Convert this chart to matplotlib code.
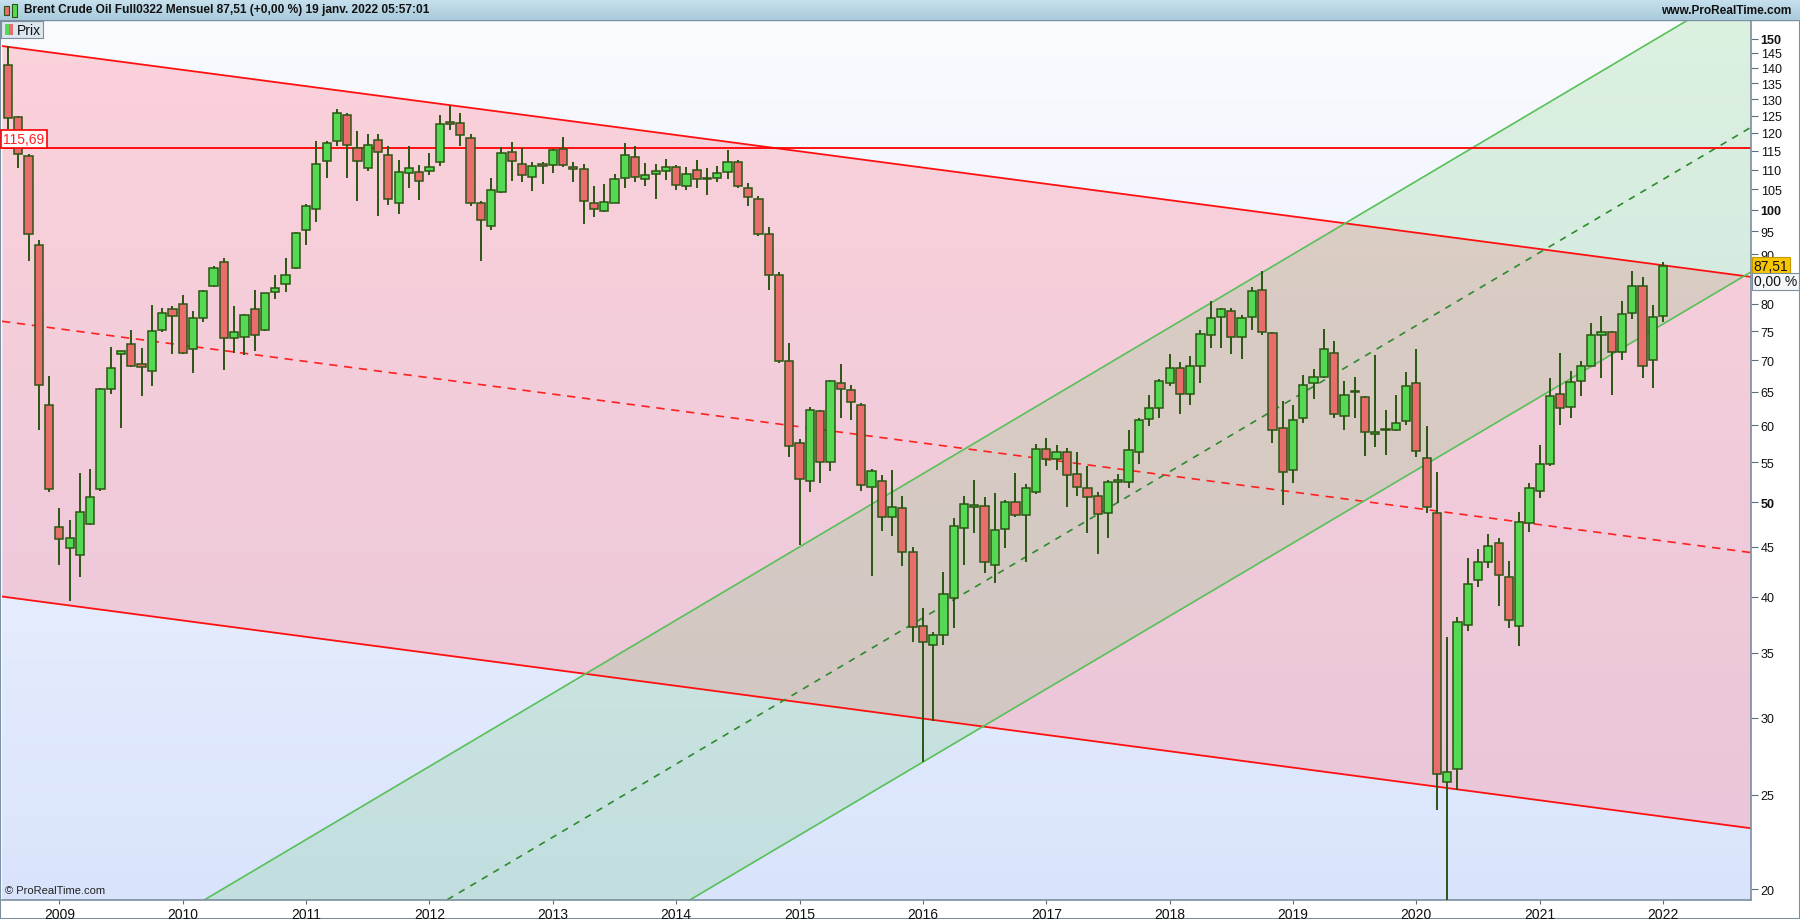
import numpy as np
import matplotlib.pyplot as plt
from matplotlib.patches import Rectangle

plt.rcParams['font.family'] = ['Liberation Sans', 'DejaVu Sans']

# Monthly candles as laid out on the chart (first bar = Aug 2008, last = Jan 2022)
opens = [141.0, 124.6, 113.5, 92.0, 62.9, 47.2, 44.9, 44.1, 47.5, 51.6,
         65.4, 71.1, 72.7, 69.4, 68.2, 75.3, 79.1, 80.0, 71.9, 77.4,
         83.4, 88.3, 73.8, 73.9, 79.0, 75.2, 82.3, 83.9, 87.1, 95.3,
         100.1, 112.2, 117.6, 125.1, 115.7, 110.3, 117.9, 113.8, 101.6, 109.1,
         109.3, 109.6, 111.9, 123.1, 122.8, 118.5, 101.6, 96.2, 104.2, 114.6,
         111.4, 108.0, 111.4, 111.1, 115.5, 110.6, 110.1, 101.6, 99.6, 101.7,
         107.7, 113.2, 107.6, 108.9, 109.5, 110.7, 105.7, 110.0, 107.8, 107.7,
         109.3, 111.9, 105.4, 102.7, 94.4, 85.6, 69.9, 57.5, 52.6, 62.1,
         55.0, 66.4, 65.2, 62.9, 51.9, 52.6, 48.3, 49.3, 44.4, 37.3,
         35.7, 36.5, 39.9, 47.1, 49.5, 49.6, 43.1, 46.9, 50.0, 48.5,
         51.3, 56.8, 55.4, 56.3, 53.5, 51.7, 50.7, 48.7, 52.5, 52.5,
         56.4, 60.9, 62.5, 66.3, 68.7, 64.6, 69.1, 74.4, 77.5, 78.6,
         73.9, 77.5, 82.6, 74.6, 59.7, 54.0, 61.1, 66.3, 67.3, 71.3,
         61.4, 64.9, 64.1, 58.8, 59.3, 59.3, 60.6, 66.3, 55.6, 48.8,
         25.8, 26.6, 37.4, 41.6, 43.4, 45.4, 41.9, 37.3, 47.6, 51.4,
         54.7, 64.6, 62.7, 66.6, 69.1, 74.4, 74.9, 71.4, 78.3, 83.4,
         70.0, 77.7]
highs = [147.5, 125.0, 114.0, 93.1, 67.5, 49.3, 48.0, 53.6, 54.1, 65.6,
         72.2, 71.6, 75.2, 72.1, 79.8, 79.2, 79.6, 81.8, 78.6, 82.7,
         87.6, 89.3, 79.6, 78.2, 82.7, 82.2, 85.7, 89.2, 94.8, 101.4,
         117.7, 117.7, 127.0, 125.8, 120.5, 119.6, 119.6, 116.2, 112.5, 116.2,
         111.1, 114.4, 125.2, 128.0, 125.8, 119.6, 102.1, 107.7, 116.0, 117.4,
         115.7, 111.9, 111.9, 115.4, 118.7, 111.9, 111.4, 105.7, 106.3, 108.9,
         117.2, 116.2, 111.7, 111.4, 112.8, 111.2, 110.7, 112.4, 110.5, 111.0,
         115.3, 112.6, 106.6, 103.3, 95.9, 86.3, 72.9, 58.1, 62.7, 62.3,
         66.8, 69.4, 66.1, 63.2, 54.1, 53.3, 54.0, 50.7, 45.0, 38.9,
         36.8, 42.4, 48.2, 50.8, 52.7, 50.6, 51.1, 50.3, 53.6, 52.2,
         57.4, 58.2, 57.3, 56.9, 56.4, 54.5, 51.3, 52.7, 53.5, 59.3,
         61.1, 64.5, 67.0, 71.1, 69.8, 70.8, 75.3, 80.5, 79.3, 79.2,
         78.0, 83.2, 86.5, 74.8, 63.6, 62.9, 67.6, 68.6, 75.4, 73.3,
         66.7, 67.3, 64.3, 70.9, 62.2, 64.5, 68.1, 71.9, 59.9, 53.7,
         36.3, 38.1, 43.8, 44.8, 46.4, 46.0, 43.5, 48.9, 52.3, 57.3,
         67.1, 71.2, 68.2, 69.9, 76.4, 77.7, 75.1, 80.5, 86.4, 85.2,
         79.8, 88.3]
lows = [121.0, 110.3, 88.5, 59.3, 51.2, 43.1, 39.6, 41.9, 47.4, 51.4,
        64.7, 59.6, 68.9, 64.4, 65.8, 74.9, 71.0, 71.0, 67.9, 76.6,
        83.2, 68.4, 71.3, 70.9, 71.5, 75.0, 80.9, 82.3, 87.0, 92.1,
        97.2, 107.9, 116.4, 107.9, 102.0, 109.7, 98.6, 101.2, 99.1, 105.4,
        102.4, 108.7, 111.0, 120.9, 116.4, 101.0, 88.6, 95.4, 104.0, 107.0,
        106.8, 104.5, 106.3, 109.1, 110.6, 106.8, 96.6, 98.4, 99.4, 101.5,
        105.4, 106.8, 105.9, 102.6, 107.3, 104.7, 104.9, 105.2, 103.6, 106.7,
        107.6, 105.2, 100.8, 93.9, 82.6, 69.6, 55.7, 45.2, 51.2, 52.3,
        53.8, 61.0, 60.7, 51.4, 42.0, 46.7, 46.2, 43.0, 35.9, 27.0,
        29.8, 35.7, 37.1, 43.1, 46.5, 42.3, 41.3, 44.9, 48.3, 43.4,
        51.0, 54.5, 54.0, 49.5, 50.8, 46.5, 44.2, 46.0, 49.9, 51.7,
        54.8, 59.9, 61.0, 65.9, 61.6, 62.9, 66.4, 72.1, 72.1, 71.0,
        70.2, 75.3, 74.4, 57.6, 49.7, 52.3, 60.3, 63.8, 67.2, 61.1,
        59.3, 61.1, 55.8, 57.0, 56.0, 59.2, 60.1, 55.7, 48.8, 24.1,
        16.0, 25.3, 36.9, 40.9, 42.8, 39.1, 37.1, 35.6, 46.6, 50.5,
        54.5, 60.0, 61.0, 64.4, 69.0, 67.2, 64.5, 70.1, 77.2, 67.2,
        65.5, 76.7]
closes = [124.3, 114.2, 94.5, 66.0, 51.6, 45.8, 45.9, 48.9, 50.6, 65.4,
          68.7, 71.5, 69.1, 68.9, 75.0, 78.3, 77.8, 71.2, 77.3, 82.5,
          87.2, 73.8, 74.8, 77.9, 74.4, 82.1, 83.0, 85.6, 94.6, 100.9,
          111.4, 117.1, 125.7, 116.5, 112.2, 116.5, 114.6, 102.5, 109.3, 110.3,
          107.0, 110.6, 122.5, 122.5, 119.3, 101.6, 97.5, 104.7, 114.3, 112.2,
          108.5, 110.9, 110.9, 115.2, 111.1, 110.1, 102.1, 100.1, 101.8, 107.6,
          113.8, 108.0, 108.6, 109.5, 110.7, 106.1, 108.9, 107.6, 107.6, 109.1,
          112.1, 105.7, 103.0, 94.4, 85.7, 69.9, 57.1, 52.8, 62.3, 55.0,
          66.6, 65.4, 63.4, 52.1, 53.9, 48.3, 49.4, 44.4, 37.2, 35.9,
          36.5, 40.2, 47.3, 49.8, 49.7, 43.4, 46.8, 50.0, 48.5, 51.7,
          56.7, 55.4, 56.3, 53.3, 51.9, 50.6, 48.6, 52.5, 52.7, 56.6,
          60.7, 62.5, 66.6, 68.7, 64.6, 69.1, 74.5, 77.3, 79.0, 73.9,
          77.3, 82.5, 74.8, 59.3, 53.7, 60.7, 66.1, 67.3, 71.9, 61.7,
          64.5, 65.1, 59.0, 59.0, 59.5, 60.3, 65.8, 56.5, 49.5, 26.3,
          26.4, 37.7, 41.2, 43.4, 45.1, 42.1, 37.8, 47.7, 51.7, 54.8,
          64.3, 62.5, 66.5, 69.1, 74.4, 74.9, 71.4, 78.1, 83.4, 69.0,
          77.5, 87.51]

years = list(range(2009, 2023))
first_jan = 5            # bar index of January 2009

level = 115.69
last_price = 87.51

# channel lines: price at the left and right edge of the plot
x_edges = [-0.58, 169.55]
red_top = [147.4, 85.3]
red_bottom = [40.0, 23.1]
green_upper = [14.67, 171.3]
green_lower = [7.43, 86.3]

W, H = 1800, 920


def rect(x0, y0, x1, y1):
    # pixel box -> figure fraction
    return [x0 / W, 1 - y1 / H, (x1 - x0) / W, (y1 - y0) / H]


def mid(a, b):
    return [np.sqrt(a[0] * b[0]), np.sqrt(a[1] * b[1])]


def vgrad(ax, top, bottom):
    g = np.linspace(0, 1, 256)[:, None, None]
    img = (1 - g) * np.array(top)[None, None, :] + g * np.array(bottom)[None, None, :]
    ax.imshow(img / 255.0, aspect='auto', extent=[0, 1, 0, 1])
    ax.set_xlim(0, 1)
    ax.set_ylim(0, 1)
    ax.axis('off')


fig = plt.figure(figsize=(18, 9.2), dpi=100)
fig.patch.set_facecolor('white')

plot_box = rect(2, 22, 1751, 901)
bg = fig.add_axes(plot_box, zorder=0)
vgrad(bg, (250, 251, 255), (217, 228, 252))

ax = fig.add_axes(plot_box, zorder=1)
ax.set_facecolor('none')
ax.set_yscale('log')
ax.set_xlim(x_edges)
ax.set_ylim(19.49, 156.4)

# channels
ax.fill_between(x_edges, red_bottom, red_top, color=(1.0, 0.59, 0.65), alpha=0.4, lw=0, zorder=1)
ax.fill_between(x_edges, green_lower, green_upper, color=(0.39, 0.78, 0.39), alpha=0.19, lw=0, zorder=1.5)
ax.plot(x_edges, red_top, color='#ff1010', lw=1.3, zorder=2)
ax.plot(x_edges, red_bottom, color='#ff1010', lw=1.3, zorder=2)
ax.plot(x_edges, mid(red_top, red_bottom), color='#ff2020', lw=1.2, ls=(0, (5, 4)), zorder=2)
ax.plot(x_edges, green_upper, color='#58c058', lw=1.2, zorder=2)
ax.plot(x_edges, green_lower, color='#58c058', lw=1.2, zorder=2)
ax.plot(x_edges, mid(green_upper, green_lower), color='#2e8a2e', lw=1.2, ls=(0, (4, 4)), zorder=2)
ax.axhline(level, color='#ff0000', lw=1.3, zorder=2)

# candles
o = np.array(opens)
h = np.array(highs)
l = np.array(lows)
c = np.array(closes)
idx = np.arange(len(o))
up = c >= o
edge = '#2b5612'
ax.vlines(idx, l, h, color=edge, lw=1.4, zorder=3)
bottom = np.minimum(o, c)
height = np.maximum(np.abs(c - o), 0.05)
ax.bar(idx[up], height[up], bottom=bottom[up], width=0.8, color='#55d955',
       edgecolor=edge, lw=1.1, zorder=4)
ax.bar(idx[~up], height[~up], bottom=bottom[~up], width=0.8, color='#ea6d6d',
       edgecolor=edge, lw=1.1, zorder=4)

# axes / ticks
yt = [20, 25, 30, 35, 40, 45, 50, 55, 60, 65, 70, 75, 80, 90, 95, 100, 105,
      110, 115, 120, 125, 130, 135, 140, 145, 150]
ax.yaxis.tick_right()
ax.set_yticks(yt)
ax.set_yticklabels([str(v) for v in yt])
ax.yaxis.set_minor_locator(plt.NullLocator())
for lab, v in zip(ax.get_yticklabels(), yt):
    if v in (50, 100, 150):
        lab.set_fontweight('bold')
ax.tick_params(axis='y', which='major', direction='out', length=5, width=0.8,
               color='#5d6f7c', labelsize=9, labelcolor='#111111', pad=2)

xt = [first_jan + 12 * k for k in range(len(years))]
ax.set_xticks(xt)
ax.set_xticklabels([str(y) for y in years])
ax.tick_params(axis='x', direction='out', length=3, width=0.8, color='#5d6f7c',
               labelsize=10, labelcolor='#111111', pad=2)

for side in ['top', 'left']:
    ax.spines[side].set_visible(False)
for side in ['right', 'bottom']:
    ax.spines[side].set_color('#7b8f9e')
    ax.spines[side].set_linewidth(1.2)

# level label at the left
ax.annotate('115,69', xy=(0.0, level), xycoords=('axes fraction', 'data'),
            xytext=(1, 1.5), textcoords='offset points', ha='left', va='bottom',
            fontsize=10, color='#ff2020', zorder=6,
            bbox=dict(boxstyle='square,pad=0.15', fc='white', ec='#ff0000', lw=1.2))

# last price tags on the right axis
ax.annotate('87,51', xy=(1.0, last_price), xycoords=('axes fraction', 'data'),
            xytext=(2, 0), textcoords='offset points', ha='left', va='center',
            fontsize=10, color='#111111', annotation_clip=False, zorder=6,
            bbox=dict(boxstyle='square,pad=0.12', fc='#f7c600', ec='#c59a00', lw=0.8))
ax.annotate('0,00 %', xy=(1.0, last_price), xycoords=('axes fraction', 'data'),
            xytext=(2, -11), textcoords='offset points', ha='left', va='center',
            fontsize=10, color='#111111', annotation_clip=False, zorder=6,
            bbox=dict(boxstyle='square,pad=0.12', fc='#f4f7fa', ec='#7b8f9e', lw=0.8))

ax.text(0.002, 0.006, '\u00a9 ProRealTime.com', transform=ax.transAxes,
        fontsize=8, color='#222222', ha='left', va='bottom', zorder=6)

# title bar
tb = fig.add_axes(rect(0, 0, 1800, 21), zorder=2)
vgrad(tb, (200, 225, 238), (168, 202, 219))
tb.text(24 / W, 0.5, 'Brent Crude Oil Full0322 Mensuel 87,51 (+0,00 %) 19 janv. 2022 05:57:01',
        transform=tb.transAxes, fontsize=8.6, fontweight='bold', color='#111111',
        ha='left', va='center')
tb.text(1791 / W, 0.5, 'www.ProRealTime.com', transform=tb.transAxes, fontsize=8.6,
        fontweight='bold', color='#111111', ha='right', va='center')
# tiny candle icon
tb.add_patch(Rectangle((4 / W, 0.25), 5 / W, 0.4, fc='#ea6d6d', ec=edge, lw=0.8))
tb.add_patch(Rectangle((12 / W, 0.15), 5 / W, 0.6, fc='#55d955', ec=edge, lw=0.8))

# "Prix" legend box
lg = fig.add_axes(rect(1, 22, 43, 39), zorder=3)
lg.set_facecolor('#dbe6ee')
lg.set_xticks([])
lg.set_yticks([])
for s in lg.spines.values():
    s.set_color('#7b8f9e')
lg.set_xlim(0, 42)
lg.set_ylim(0, 17)
lg.add_patch(Rectangle((4, 3), 4, 11, fc='#55d955', ec='none'))
lg.add_patch(Rectangle((8, 3), 4, 11, fc='#ea6d6d', ec='none'))
lg.text(16, 8.5, 'Prix', fontsize=10, color='#111111', va='center', ha='left')

# outer frame
fig.add_artist(Rectangle((0, 0), 1, 1, transform=fig.transFigure, fill=False,
                         ec='#7b8f9e', lw=1.5))
fig.add_artist(plt.Line2D([0, 1], [1 - 21 / H, 1 - 21 / H], transform=fig.transFigure,
                          color='#7b8f9e', lw=1))

fig.savefig('out.png', dpi=100)
